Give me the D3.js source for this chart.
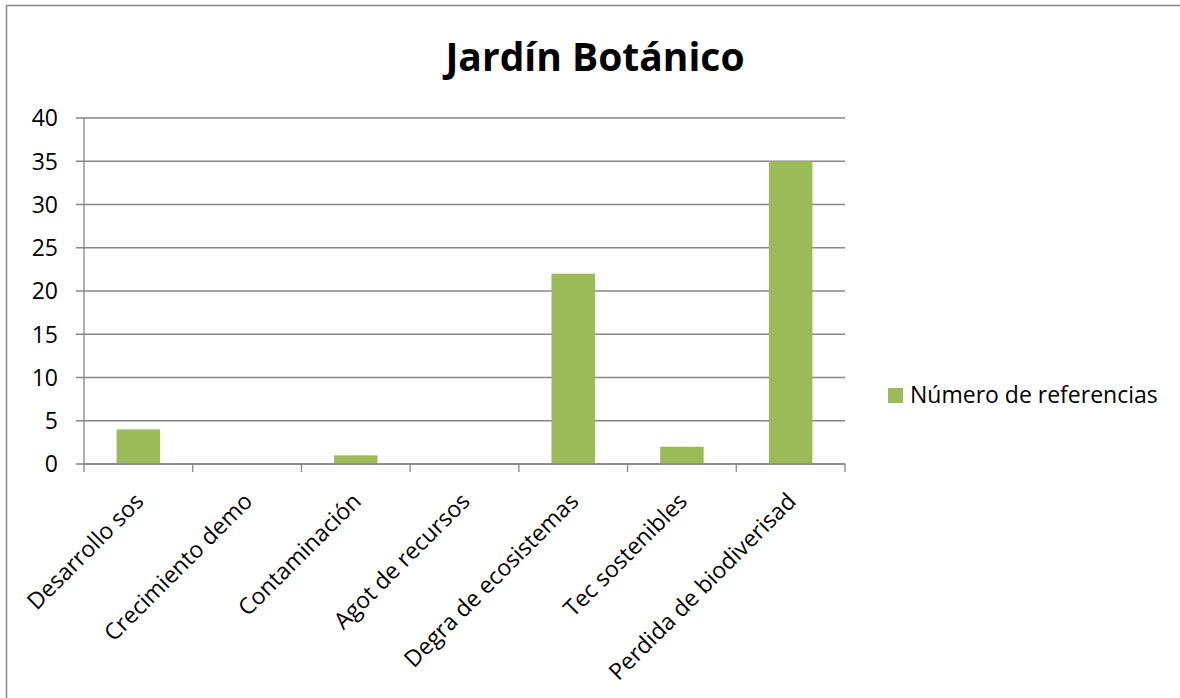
<!DOCTYPE html>
<html>
<head>
<meta charset="utf-8">
<script src="https://cdn.jsdelivr.net/npm/d3@7"></script>
<style>
  body { margin: 0; background: #fff; }
  svg text { font-family: "Open Sans", "DejaVu Sans", sans-serif; fill: #000; }
</style>
</head>
<body>
<div id="chart"></div>
<script>
const categories = ['Desarrollo sos', 'Crecimiento demo', 'Contaminación', 'Agot de recursos',
  'Degra de ecosistemas', 'Tec sostenibles', 'Perdida de biodiverisad'];
const values = [4, 0, 1, 0, 22, 2, 35];
const yTicks = [0, 5, 10, 15, 20, 25, 30, 35, 40];
const seriesName = 'Número de referencias';
const title = 'Jardín Botánico';

const width = 1180, height = 698;
const margin = { left: 84, right: 1180 - 845, top: 118, bottom: 698 - 464 };

const svg = d3.select('#chart')
  .append('svg')
  .attr('width', width)
  .attr('height', height);

// chart frame (runs off the right and bottom)
svg.append('rect')
  .attr('x', 6.5).attr('y', 5.5)
  .attr('width', 1200).attr('height', 800)
  .attr('fill', 'none')
  .attr('stroke', '#878787')
  .attr('stroke-width', 1.5);

const x = d3.scaleBand()
  .domain(categories)
  .range([margin.left, width - margin.right])
  .paddingInner(0.6)
  .paddingOuter(0.3);

const y = d3.scaleLinear()
  .domain([0, 40])
  .range([height - margin.bottom, margin.top]);

// gridlines
svg.append('g')
  .selectAll('line')
  .data(yTicks)
  .enter()
  .append('line')
  .attr('x1', margin.left - 8)
  .attr('x2', width - margin.right)
  .attr('y1', d => y(d))
  .attr('y2', d => y(d))
  .attr('stroke', '#868686')
  .attr('stroke-width', 1.3);

// y labels
svg.append('g')
  .selectAll('text')
  .data(yTicks)
  .enter()
  .append('text')
  .attr('x', margin.left - 26)
  .attr('y', d => y(d))
  .attr('dy', '0.36em')
  .attr('text-anchor', 'end')
  .style('font-size', '23px')
  .text(d => d);

// bars
svg.append('g')
  .selectAll('rect')
  .data(values)
  .enter()
  .append('rect')
  .attr('x', (d, i) => x(categories[i]))
  .attr('y', d => y(d))
  .attr('width', x.bandwidth())
  .attr('height', d => y(0) - y(d))
  .attr('fill', '#9BBB59');

// y axis line
svg.append('line')
  .attr('x1', margin.left).attr('x2', margin.left)
  .attr('y1', y(40)).attr('y2', y(0))
  .attr('stroke', '#868686')
  .attr('stroke-width', 1.3);

// x axis line and ticks
const x0 = margin.left, x1 = width - margin.right;
svg.append('line')
  .attr('x1', x0).attr('x2', x1)
  .attr('y1', y(0)).attr('y2', y(0))
  .attr('stroke', '#868686')
  .attr('stroke-width', 1.3);

const step = (x1 - x0) / categories.length;
svg.append('g')
  .selectAll('line')
  .data(d3.range(categories.length + 1))
  .enter()
  .append('line')
  .attr('x1', i => x0 + i * step)
  .attr('x2', i => x0 + i * step)
  .attr('y1', y(0))
  .attr('y2', y(0) + 8)
  .attr('stroke', '#868686')
  .attr('stroke-width', 1.3);

// x labels, rotated
svg.append('g')
  .selectAll('text')
  .data(categories)
  .enter()
  .append('text')
  .attr('transform', d => `translate(${x(d) + x.bandwidth() / 2 + 1},${y(0) + 33}) rotate(-45)`)
  .attr('text-anchor', 'end')
  .attr('dy', '0.35em')
  .style('font-size', '23px')
  .text(d => d);

// title
svg.append('text')
  .attr('x', 595)
  .attr('y', 71)
  .attr('text-anchor', 'middle')
  .style('font-size', '39px')
  .style('font-weight', 'bold')
  .text(title);

// legend
const legend = svg.append('g').attr('transform', 'translate(888,388)');
legend.append('rect')
  .attr('width', 15).attr('height', 15)
  .attr('fill', '#9BBB59');
legend.append('text')
  .attr('x', 22)
  .attr('y', 15)
  .style('font-size', '23px')
  .text(seriesName);
</script>
</body>
</html>
